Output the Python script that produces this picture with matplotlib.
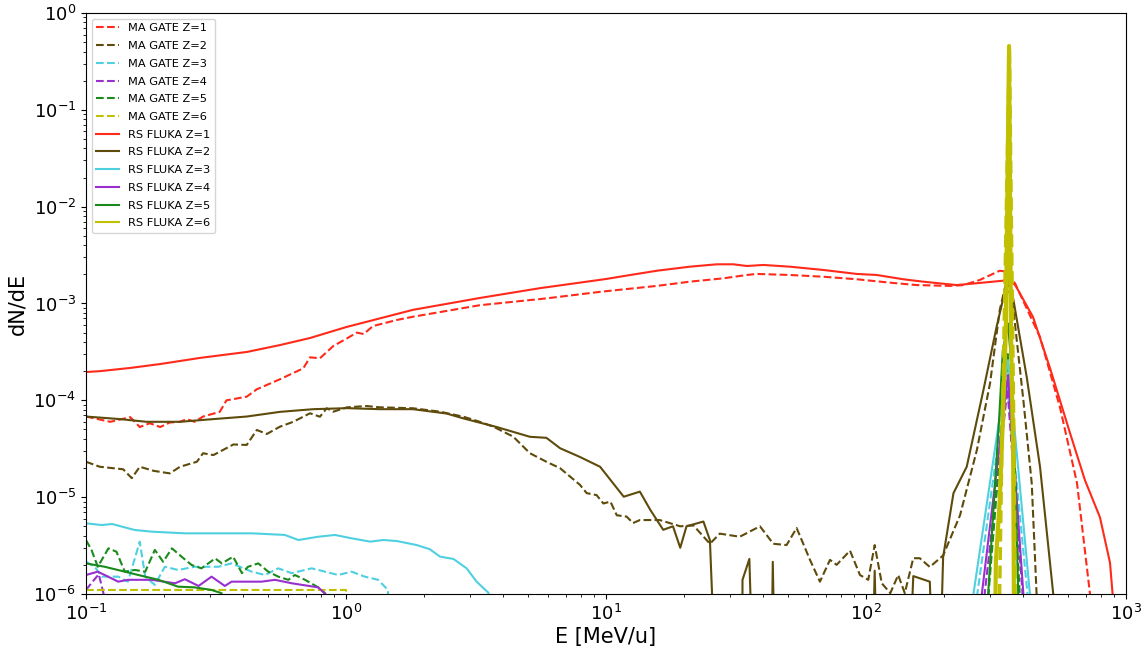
import matplotlib
matplotlib.use("Agg")
import matplotlib.pyplot as plt

LOW = 1e-8   # stands for "off the bottom of the plot"

# ---- MA GATE (dashed) ----
gate_z1_e = [0.1, 0.124, 0.148, 0.161, 0.176, 0.193, 0.21, 0.23, 0.244, 0.262, 0.282, 0.327, 0.347,
             0.415, 0.454, 0.557, 0.685, 0.727, 0.794, 0.894, 1.01, 1.10, 1.17, 1.27, 1.57, 1.81, 3.27,
             5.91, 9.5, 11.7, 15.7, 21.0, 28.3, 34.8, 38.0, 51.0, 68.5, 92.1, 124, 157, 210, 237, 274,
             327, 348, 375, 467, 557, 648, 727, 745]
gate_z1 = [6.8e-5, 6.0e-5, 6.7e-5, 5.3e-5, 5.8e-5, 5.3e-5, 5.9e-5, 6.0e-5, 6.4e-5, 6.0e-5, 6.8e-5, 7.6e-5,
           1.0e-4, 1.09e-4, 1.3e-4, 1.65e-4, 2.14e-4, 2.78e-4, 2.72e-4, 3.64e-4, 4.37e-4, 5.0e-4, 4.84e-4,
           5.85e-4, 6.76e-4, 7.3e-4, 9.6e-4, 1.13e-3, 1.32e-3, 1.40e-3, 1.52e-3, 1.68e-3, 1.82e-3, 1.97e-3,
           2.02e-3, 1.97e-3, 1.89e-3, 1.78e-3, 1.64e-3, 1.55e-3, 1.52e-3, 1.55e-3, 1.75e-3, 2.18e-3,
           2.13e-3, 1.6e-3, 4.5e-4, 8.5e-5, 1.4e-5, 1.0e-6, LOW]

gate_z2_e = [0.1, 0.113, 0.139, 0.150, 0.161, 0.182, 0.21, 0.23, 0.267, 0.282, 0.309, 0.369, 0.415,
             0.454, 0.496, 0.557, 0.627, 0.727, 0.794, 0.843, 0.894, 1.01, 1.20, 1.35, 1.81, 2.30, 2.83,
             3.27, 3.69, 4.40, 5.1, 5.9, 6.66, 7.94, 8.43, 9.2, 9.77, 10.4, 11.0, 12.0, 12.7, 13.5, 16.1,
             19.3, 21.7, 25.1, 27.4, 32.7, 39.1, 44.0, 49.5, 54.1, 60.9, 66.5, 72.7, 77.1, 86.8, 94.8,
             102, 108, 115, 124, 133, 141, 152, 161, 176, 198, 230, 267, 300, 327, 348, 369, 403, 434,
             453, 460]
gate_z2 = [2.32e-5, 2.06e-5, 1.94e-5, 1.57e-5, 2.06e-5, 1.87e-5, 1.76e-5, 2.06e-5, 2.32e-5, 2.84e-5,
           2.72e-5, 3.5e-5, 3.46e-5, 4.94e-5, 4.49e-5, 5.34e-5, 6.0e-5, 7.35e-5, 6.77e-5, 8.28e-5, 7.63e-5,
           8.47e-5, 8.73e-5, 8.47e-5, 8.28e-5, 7.63e-5, 6.77e-5, 6.0e-5, 5.34e-5, 4.21e-5, 2.84e-5,
           2.32e-5, 1.99e-5, 1.34e-5, 1.1e-5, 1.05e-5, 8.6e-6, 9.0e-6, 6.5e-6, 6.3e-6, 5.4e-6, 5.8e-6,
           5.8e-6, 5.0e-6, 5.1e-6, 3.3e-6, 4.2e-6, 3.9e-6, 5.0e-6, 3.3e-6, 3.2e-6, 4.8e-6, 2.25e-6,
           1.34e-6, 2.25e-6, 2.0e-6, 2.8e-6, 1.57e-6, 1.4e-6, 3.2e-6, 1.29e-6, 1.02e-6, 1.57e-6, 1.02e-6,
           2.34e-6, 2.34e-6, 1.9e-6, 2.5e-6, 6.5e-6, 3.07e-5, 1.5e-4, 8.6e-4, 1.75e-3, 8.6e-4, 1.0e-4,
           1.39e-5, 1.0e-6, LOW]

gate_z3_e = [0.1, 0.108, 0.115, 0.133, 0.145, 0.161, 0.169, 0.184, 0.201, 0.226, 0.262, 0.323, 0.363,
             0.434, 0.488, 0.549, 0.618, 0.738, 0.83, 0.934, 1.05, 1.18, 1.33, 1.45, 1.5,
             262, 268, 348, 418, 425]
gate_z3 = [2.15e-6, 1.91e-6, 1.51e-6, 1.51e-6, 1.34e-6, 3.47e-6, 1.51e-6, 1.24e-6, 1.91e-6, 1.77e-6,
           1.91e-6, 1.91e-6, 2.07e-6, 1.7e-6, 1.57e-6, 1.84e-6, 1.64e-6, 1.84e-6, 1.7e-6, 1.57e-6, 1.7e-6,
           1.51e-6, 1.4e-6, 1.1e-6, LOW,
           LOW, 1.0e-6, 1.6e-4, 1.0e-6, LOW]

gate_z4_e = [0.1, 0.105, 0.112, 0.118, 0.125, 280, 286, 350, 400, 405]
gate_z4 = [1.1e-6, 1.3e-6, 1.6e-6, 9e-7, LOW, LOW, 1.0e-6, 1.3e-4, 1.0e-6, LOW]

gate_z5_e = [0.1, 0.105, 0.111, 0.122, 0.131, 0.141, 0.154, 0.169, 0.184, 0.198, 0.214, 0.233, 0.255,
             0.278, 0.314, 0.333, 0.368, 0.398, 0.42, 0.46, 0.502, 0.549, 0.6, 0.636, 0.696, 0.782, 0.83,
             0.86, 290, 296, 351, 390, 395]
gate_z5 = [3.6e-6, 2.85e-6, 1.91e-6, 2.96e-6, 2.73e-6, 1.7e-6, 1.77e-6, 1.7e-6, 2.85e-6, 2.15e-6,
           2.96e-6, 2.43e-6, 1.99e-6, 1.84e-6, 2.33e-6, 2.07e-6, 2.43e-6, 1.64e-6, 1.91e-6, 2.07e-6,
           1.7e-6, 1.51e-6, 1.4e-6, 1.57e-6, 1.4e-6, 1.17e-6, 1.02e-6, LOW, LOW, 1.0e-6, 3.0e-4, 1.0e-6, LOW]

# Z=6 GATE: flat tail at low energy, narrow primary peak near 355 MeV/u
gate_z6_e = [0.1, 0.3, 0.6, 1.0, 1.02]
gate_z6 = [1.1e-6, 1.1e-6, 1.1e-6, 1.1e-6, LOW]
gate_z6_peak_e = [318, 333, 356, 371, 380]
gate_z6_peak = [LOW, 3e-5, 0.44, 3e-5, LOW]

# ---- RS FLUKA (solid) ----
fluka_z1_e = [0.1, 0.113, 0.148, 0.193, 0.274, 0.416, 0.557, 0.727, 1.0, 1.81, 3.27, 5.57, 10, 11.7, 15.7,
              21.0, 26.7, 30.9, 34.8, 40.3, 51.0, 68.5, 92.1, 110, 139, 166, 223, 267, 337, 352, 375,
              439, 510, 609, 695, 794, 868, 891, 920]
fluka_z1 = [1.96e-4, 2.0e-4, 2.16e-4, 2.37e-4, 2.74e-4, 3.16e-4, 3.72e-4, 4.4e-4, 5.7e-4, 8.6e-4, 1.14e-3,
            1.44e-3, 1.79e-3, 1.92e-3, 2.18e-3, 2.4e-3, 2.54e-3, 2.54e-3, 2.44e-3, 2.5e-3, 2.4e-3, 2.22e-3,
            2.02e-3, 1.97e-3, 1.78e-3, 1.68e-3, 1.55e-3, 1.62e-3, 1.72e-3, 1.78e-3, 1.55e-3, 7.25e-4,
            2.16e-4, 4.6e-5, 1.5e-5, 6.2e-6, 2.1e-6, 9e-7, LOW]

fluka_z2_e = [0.1, 0.135, 0.171, 0.23, 0.309, 0.415, 0.557, 0.748, 1.01, 1.35, 1.81, 2.44, 2.83, 3.8, 5.1,
              5.9, 6.66, 7.94, 9.49, 11.7, 13.5, 14.8, 16.6, 18.1, 19.3, 20.4, 23.7, 25.1, 27.4, 33.3,
              33.5, 35.6, 37.8, 42.8, 43.8, 45.5, 103.5, 108, 113, 141, 152, 176, 187, 198, 217, 244,
              283, 318, 348, 356, 369, 415, 467, 525, 535]
fluka_z2 = [6.8e-5, 6.4e-5, 6.0e-5, 6.0e-5, 6.4e-5, 6.8e-5, 7.6e-5, 8.1e-5, 8.3e-5, 8.1e-5, 8.1e-5,
            7.3e-5, 6.5e-5, 5.3e-5, 4.2e-5, 4.1e-5, 3.2e-5, 2.6e-5, 2.06e-5, 1.01e-5, 1.14e-5, 7.4e-6,
            4.6e-6, 5.0e-6, 3.0e-6, 5.0e-6, 5.6e-6, 3.6e-6, LOW, LOW, 1.4e-6, 2.3e-6, LOW, LOW, 2.15e-6,
            LOW, LOW, 1.74e-6, LOW, LOW, 1.53e-6, 1.34e-6, LOW, 2.4e-6, 1.1e-5, 2.06e-5, 1.28e-4, 5.76e-4,
            1.62e-3, 1.75e-3, 1.09e-3, 1.75e-4, 2.06e-5, 1.0e-6, LOW]

fluka_z3_e = [0.1, 0.115, 0.126, 0.154, 0.179, 0.24, 0.323, 0.434, 0.582, 0.656, 0.782, 0.907, 1.05,
              1.24, 1.39, 1.57, 1.87, 2.10, 2.30, 2.59, 2.91, 3.18, 3.53, 3.6,
              250, 259, 352, 427, 435]
fluka_z3 = [5.37e-6, 5.15e-6, 5.28e-6, 4.58e-6, 4.4e-6, 4.23e-6, 4.23e-6, 4.23e-6, 4.07e-6, 3.61e-6,
            3.9e-6, 4.07e-6, 3.76e-6, 3.47e-6, 3.61e-6, 3.52e-6, 3.2e-6, 2.9e-6, 2.43e-6, 2.3e-6, 1.84e-6,
            1.34e-6, 1.03e-6, LOW,
            LOW, 1.0e-6, 2.6e-4, 1.0e-6, LOW]

fluka_z4_e = [0.1, 0.111, 0.118, 0.133, 0.145, 0.179, 0.22, 0.24, 0.271, 0.304, 0.342, 0.363, 0.474,
              0.533, 0.618, 0.782, 0.85, 0.87,
              272, 279, 352, 403, 410]
fluka_z4 = [1.57e-6, 1.7e-6, 1.57e-6, 1.34e-6, 1.4e-6, 1.4e-6, 1.29e-6, 1.42e-6, 1.21e-6, 1.51e-6, 1.21e-6,
            1.34e-6, 1.34e-6, 1.4e-6, 1.29e-6, 1.17e-6, 9.5e-7, LOW,
            LOW, 1.0e-6, 1.83e-4, 1.0e-6, LOW]

fluka_z5_e = [0.1, 0.118, 0.141, 0.159, 0.19, 0.226, 0.262, 0.304, 0.332, 0.34,
              290, 295, 325, 336, 352, 361, 374, 385, 390]
fluka_z5 = [2.07e-6, 1.91e-6, 1.7e-6, 1.57e-6, 1.4e-6, 1.19e-6, 1.17e-6, 1.1e-6, 1.02e-6, LOW,
            LOW, 1.0e-6, 6.3e-5, 3.3e-4, 6.2e-4, 2.6e-4, 2.0e-5, 1.0e-6, LOW]

fluka_z6_e = [308, 316, 327, 336, 345, 355, 361, 368, 374]
fluka_z6 = [LOW, 2.2e-6, 9.3e-6, 6.3e-5, 5.3e-4, 0.456, 5.3e-4, 3e-5, LOW]

colors = ["#ff2a1a", "#5e4b0b", "#4fd0e0", "#9a2fd0", "#1a8a1a", "#c0c000"]

gate = [(gate_z1_e, gate_z1), (gate_z2_e, gate_z2), (gate_z3_e, gate_z3),
        (gate_z4_e, gate_z4), (gate_z5_e, gate_z5), (gate_z6_e, gate_z6)]
fluka = [(fluka_z1_e, fluka_z1), (fluka_z2_e, fluka_z2), (fluka_z3_e, fluka_z3),
         (fluka_z4_e, fluka_z4), (fluka_z5_e, fluka_z5), (fluka_z6_e, fluka_z6)]

fig = plt.figure(figsize=(11.45, 6.51), dpi=100)
ax = fig.add_axes([0.0751, 0.0876, 0.9083, 0.8924])

for i, (e, v) in enumerate(gate):
    ax.plot(e, v, "--", color=colors[i], lw=1.5, label="MA GATE Z=%d" % (i + 1))
for i, (e, v) in enumerate(fluka):
    lw = 3 if i == 5 else 1.5
    ax.plot(e, v, "-", color=colors[i], lw=lw, label="RS FLUKA Z=%d" % (i + 1))
# the carbon primary peak of GATE, drawn on top
ax.plot(gate_z6_peak_e, gate_z6_peak, "--", color=colors[5], lw=2.5)

ax.set_xscale("log")
ax.set_yscale("log")
ax.set_xlim(0.1, 1000)
ax.set_ylim(1e-6, 1)
ax.tick_params(labelsize=13)
ax.set_xlabel("E [MeV/u]", fontsize=15, labelpad=2)
ax.set_ylabel("dN/dE", fontsize=15)
leg = ax.legend(loc="upper left", fontsize=8.2, labelspacing=0.68)
for line in leg.get_lines():
    line.set_linewidth(1.5)

fig.savefig("out.png", dpi=100)
